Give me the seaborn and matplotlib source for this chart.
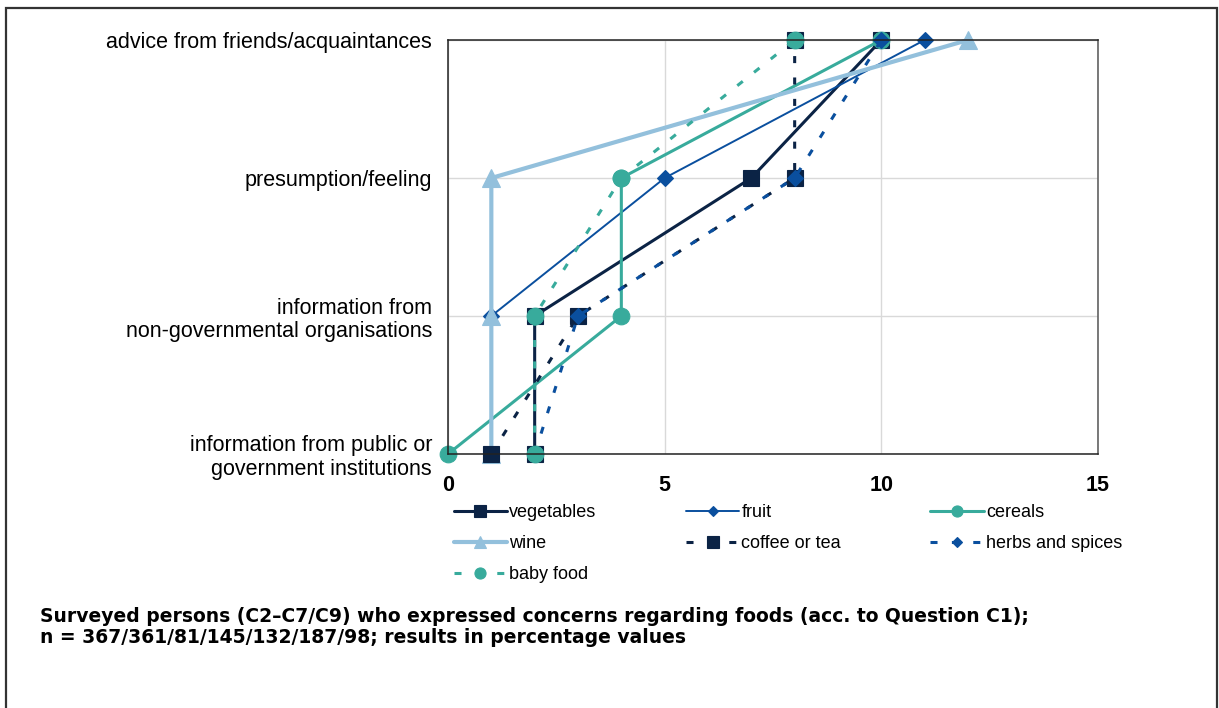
import matplotlib
matplotlib.use("Agg")
import pandas as pd
import matplotlib.pyplot as plt
import seaborn as sns
from matplotlib.patches import Rectangle

# source categories, bottom to top
sources = ["information from public or\ngovernment institutions",
           "information from\nnon-governmental organisations",
           "presumption/feeling",
           "advice from friends/acquaintances"]

# percentages per source (same order as sources)
vegetables = [2, 2, 7, 10]
fruit = [1, 1, 5, 11]
cereals = [0, 4, 4, 10]
wine = [1, 1, 1, 12]
coffee_tea = [1, 3, 8, 8]
herbs_spices = [2, 3, 8, 10]
baby_food = [2, 2, 4, 8]

series_names = ["vegetables", "fruit", "cereals", "wine",
                "coffee or tea", "herbs and spices", "baby food"]
series_values = [vegetables, fruit, cereals, wine,
                 coffee_tea, herbs_spices, baby_food]

navy = "#0b2345"
blue = "#0a4f9e"
teal = "#38ab9c"
light = "#93c0dc"
colors = {"vegetables": navy, "fruit": blue, "cereals": teal, "wine": light,
          "coffee or tea": navy, "herbs and spices": blue, "baby food": teal}
markers = {"vegetables": "s", "fruit": "D", "cereals": "o", "wine": "^",
           "coffee or tea": "s", "herbs and spices": "D", "baby food": "o"}
dash = (2.3, 4.7)
dashes = {"vegetables": "", "fruit": "", "cereals": "", "wine": "",
          "coffee or tea": dash, "herbs and spices": dash, "baby food": dash}
widths = {"vegetables": 2.2, "fruit": 1.4, "cereals": 2.2, "wine": 3.0,
          "coffee or tea": 2.2, "herbs and spices": 2.2, "baby food": 2.2}
msizes = {"s": 11.5, "o": 12, "D": 8.3, "^": 13}
leg_msizes = {"s": 8, "o": 8, "D": 5.5, "^": 8.7}

rows = []
for name, vals in zip(series_names, series_values):
    for pos, v in enumerate(vals):
        rows.append({"food": name, "pos": pos, "share": v})
df = pd.DataFrame(rows)

sns.set_style("white")
plt.rcParams["font.family"] = ["Liberation Sans", "DejaVu Sans"]

fig = plt.figure(figsize=(12.19, 7.08), dpi=100)
ax = fig.add_axes([448 / 1219, 1 - 454 / 708, 650 / 1219, 414 / 708])

sns.lineplot(data=df, x="share", y="pos", hue="food", style="food", size="food",
             hue_order=series_names, style_order=series_names, size_order=series_names,
             palette=colors, markers=markers, dashes=dashes, sizes=widths,
             orient="y", errorbar=None, markersize=10.5, clip_on=False, ax=ax)

for line in ax.get_lines():
    line.set_markeredgecolor(line.get_color())
    line.set_markeredgewidth(0.8)
    if line.get_marker() in msizes:
        line.set_markersize(msizes[line.get_marker()])

ax.set_xlim(0, 15)
ax.set_ylim(0, 3)
ax.set_xticks([0, 5, 10, 15])
ax.set_yticks(range(len(sources)))
ax.set_yticklabels(sources, fontsize=15.5, color="black", linespacing=1.15)
ax.tick_params(axis="y", length=0, pad=11.5)
ax.tick_params(axis="x", length=6, width=1, direction="out", color="#222222", pad=9,
               labelsize=15.5, labelcolor="black")
for lab in ax.get_xticklabels():
    lab.set_fontweight("bold")
ax.set_xlabel("")
ax.set_ylabel("")
ax.grid(True, color="#d9d9d9", linewidth=1)
for side in ["left", "bottom", "top", "right"]:
    ax.spines[side].set_color("#222222")
    ax.spines[side].set_linewidth(1.1)
ax.spines["right"].set_color("#555555")

# legend reads row by row: reorder for matplotlib's column filling
handles, labels = ax.get_legend_handles_labels()
lookup = dict(zip(labels, handles))
order = ["vegetables", "wine", "baby food", "fruit", "coffee or tea",
         "cereals", "herbs and spices"]
ax.legend([lookup[k] for k in order], order, loc="upper left",
          bbox_to_anchor=(0.009, -0.121), ncol=3, frameon=False, fontsize=13,
          handlelength=2.95, handletextpad=0.12, columnspacing=4.95,
          labelspacing=0.78, borderaxespad=0, borderpad=0)
leg = ax.get_legend()
for h in leg.legend_handles:
    h.set_markeredgecolor(h.get_color())
    if h.get_marker() in leg_msizes:
        h.set_markersize(leg_msizes[h.get_marker()])
for t in leg.get_texts():
    t.set_color("black")

fig.text(40 / 1219, 1 - 627 / 708,
         "Surveyed persons (C2\u2013C7/C9) who expressed concerns regarding foods "
         "(acc. to Question C1);\nn = 367/361/81/145/132/187/98; results in percentage values",
         fontsize=13.5, fontweight="bold", family="DejaVu Sans", color="black",
         va="center", ha="left", linespacing=1.08)

fig.patches.append(Rectangle((6 / 1219, -0.05), 1211 / 1219, 1.05 - 8 / 708,
                             transform=fig.transFigure, fill=False,
                             edgecolor="#333333", linewidth=1.6))

fig.savefig("out.png", dpi=100)
